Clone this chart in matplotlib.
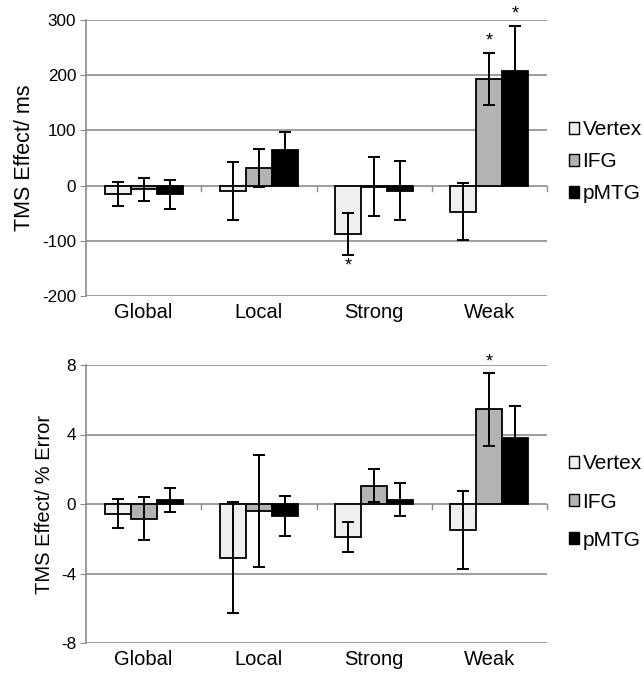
import matplotlib
matplotlib.use("Agg")
import matplotlib.pyplot as plt
import numpy as np
from matplotlib.patches import Patch

plt.rcParams['font.family'] = ['Liberation Sans', 'DejaVu Sans']

categories = ["Global", "Local", "Strong", "Weak"]
sites = ["Vertex", "IFG", "pMTG"]

# Top panel: TMS effect in ms
rt_vertex = [-15, -10, -87, -47]
rt_ifg = [-7, 32, -2, 193]
rt_pmtg = [-16, 64, -9, 208]
rt_vertex_err = [22, 53, 38, 52]
rt_ifg_err = [21, 34, 53, 47]
rt_pmtg_err = [27, 34, 54, 81]
rt_stars = [("Strong", "Vertex", "below"), ("Weak", "IFG", "above"), ("Weak", "pMTG", "above")]

# Bottom panel: TMS effect in % error
er_vertex = [-0.55, -3.1, -1.9, -1.5]
er_ifg = [-0.85, -0.4, 1.05, 5.45]
er_pmtg = [0.22, -0.7, 0.25, 3.8]
er_vertex_err = [0.83, 3.2, 0.87, 2.24]
er_ifg_err = [1.25, 3.2, 0.95, 2.1]
er_pmtg_err = [0.7, 1.15, 0.95, 1.85]
er_stars = [("Weak", "IFG", "above")]

colors = ["#efefef", "#b3b3b3", "#000000"]
grid_c = "#8c8c8c"

fig = plt.figure(figsize=(6.44, 6.73), dpi=100)
W, H = 644, 673
AXW = (547 - 86)
ax1 = fig.add_axes([86 / W, 1 - 296 / H, AXW / W, (296 - 20) / H])
ax2 = fig.add_axes([86 / W, 1 - 643 / H, AXW / W, (643 - 365) / H])


def draw(ax, vals, errs, stars, yticks, ylabel, ylabel_size, star_off, legend_y, lspace):
    x = np.arange(len(categories))
    bw = 0.225
    ax.set_xlim(-0.5, len(categories) - 0.5)
    ax.set_ylim(yticks[0], yticks[-1])
    for yt in yticks:
        ax.axhline(yt, color=grid_c, lw=1.2, zorder=0)
    tick_len = (yticks[-1] - yticks[0]) * 0.018
    for b in np.arange(0.5, len(categories) + 0.5, 1.0):
        ax.plot([b, b], [0, -tick_len], color=grid_c, lw=1.0, zorder=1, clip_on=False)
    for i, (v, e, c) in enumerate(zip(vals, errs, colors)):
        xs = x + (i - 1) * bw
        ax.bar(xs, v, width=bw, color=c, edgecolor="black", linewidth=1.3, zorder=2)
        ax.errorbar(xs, v, yerr=e, fmt="none", ecolor="black", elinewidth=1.4,
                    capsize=4.5, capthick=1.4, zorder=3)
    for cat, site, pos in stars:
        ci = categories.index(cat)
        si = sites.index(site)
        v = vals[si][ci]
        e = errs[si][ci]
        xs = ci + (si - 1) * bw
        if pos == "above":
            ax.text(xs, v + e + star_off, "*", ha="center", va="bottom", fontsize=13, zorder=4)
        else:
            ax.text(xs, v - e - star_off, "*", ha="center", va="top", fontsize=13, zorder=4)
    for s in ["top", "right", "bottom"]:
        ax.spines[s].set_visible(False)
    ax.spines["left"].set_color(grid_c)
    ax.spines["left"].set_linewidth(1.2)
    ax.set_yticks(yticks)
    ax.set_yticklabels([str(t) for t in yticks], fontsize=12.3)
    ax.tick_params(axis="y", length=4, color=grid_c, pad=3)
    ax.set_xticks(x)
    ax.set_xticklabels(categories, fontsize=14.5)
    ax.tick_params(axis="x", length=0, pad=5)
    ax.set_ylabel(ylabel, fontsize=ylabel_size, labelpad=5)
    handles = [Patch(facecolor=c, edgecolor="black", linewidth=1.0) for c in colors]
    ax.legend(handles, sites, loc="center left", bbox_to_anchor=(1.0 + 22 / AXW, legend_y),
              frameon=False, fontsize=15, handlelength=0.5, handleheight=0.5,
              handletextpad=0.15, labelspacing=lspace, borderaxespad=0, borderpad=0)


draw(ax1, [rt_vertex, rt_ifg, rt_pmtg], [rt_vertex_err, rt_ifg_err, rt_pmtg_err],
     rt_stars, [-200, -100, 0, 100, 200, 300], "TMS Effect/ ms", 15.5, 6, 0.486, 0.62)
draw(ax2, [er_vertex, er_ifg, er_pmtg], [er_vertex_err, er_ifg_err, er_pmtg_err],
     er_stars, [-8, -4, 0, 4, 8], "TMS Effect/ % Error", 14.5, 0.15, 0.507, 0.92)

fig.savefig("out.png", dpi=100)
